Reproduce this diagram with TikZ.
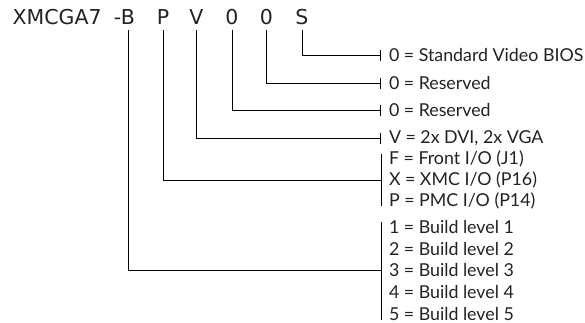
\documentclass[tikz,border=0pt]{standalone}
\usepackage{fontspec}
\setmainfont{Lato}
\newfontfamily\titlefont{DejaVu Sans}
\usetikzlibrary{arrows.meta}
\definecolor{txt}{HTML}{222222}
\begin{document}
\begin{tikzpicture}[x=1pt,y=-1pt,
  code/.style={anchor=base,inner sep=0pt,text depth=0pt,font=\titlefont\fontsize{20.5}{24}\selectfont,text=txt},
  letter/.style={code},
  lbl/.style={anchor=west,inner xsep=8pt,inner ysep=0pt,outer sep=0pt,font=\fontsize{17.8}{20}\selectfont,text=txt,align=left},
  conn/.style={line width=0.8pt,-{Bar[width=11pt,line width=0.8pt]}},
  grpconn/.style={line width=0.8pt},
  bar/.style={line width=0.8pt}]
\useasboundingbox (0,0) rectangle (585,322);
% title
\node[code,anchor=base west] (pre) at (12.5,24) {XMCGA7};
\node[letter] (dash) at (117.5,24) {-};
\node[letter] (B) at (128,24) {B};
\node[letter] (P) at (163,24) {P};
\node[letter] (V) at (196.5,24) {V};
\node[letter] (Z1) at (232,24) {0};
\node[letter] (Z2) at (266.5,24) {0};
\node[letter] (S) at (302,24) {S};
\coordinate (B0) at (128,30);
\coordinate (P0) at (163,30);
\coordinate (V0) at (196.5,30);
\coordinate (Z10) at (232,30);
\coordinate (Z20) at (266.5,30);
\coordinate (S0) at (302,30);
% labels
\node[lbl] (lS) at (381,55.5) {0 = Standard Video BIOS};
\node[lbl] (lZ2) at (381,83) {0 = Reserved};
\node[lbl] (lZ1) at (381,110.5) {0 = Reserved};
\node[lbl] (lV) at (381,138) {V = 2x DVI, 2x VGA};
\node[lbl,font=\fontsize{17.8}{21}\selectfont] (lP) at (381,180) {F = Front I/O (J1)\\X = XMC I/O (P16)\\P = PMC I/O (P14)};
\node[lbl,font=\fontsize{17.8}{21.6}\selectfont] (lB) at (381,270.5) {1 = Build level 1\\2 = Build level 2\\3 = Build level 3\\4 = Build level 4\\5 = Build level 5};
% connectors
\draw[conn] (S0) |- (lS.west);
\draw[conn] (Z20) |- (lZ2.west);
\draw[conn] (Z10) |- (lZ1.west);
\draw[conn] (V0) |- (lV.west);
\draw[grpconn] (P0) |- (lP.west);
\draw[grpconn] (B0) |- (lB.west);
\draw[bar,shorten <=3pt,shorten >=3pt] (lP.north west) -- (lP.south west);
\draw[bar,shorten <=1pt] (lB.north west) -- (lB.south west);
\end{tikzpicture}
\end{document}
